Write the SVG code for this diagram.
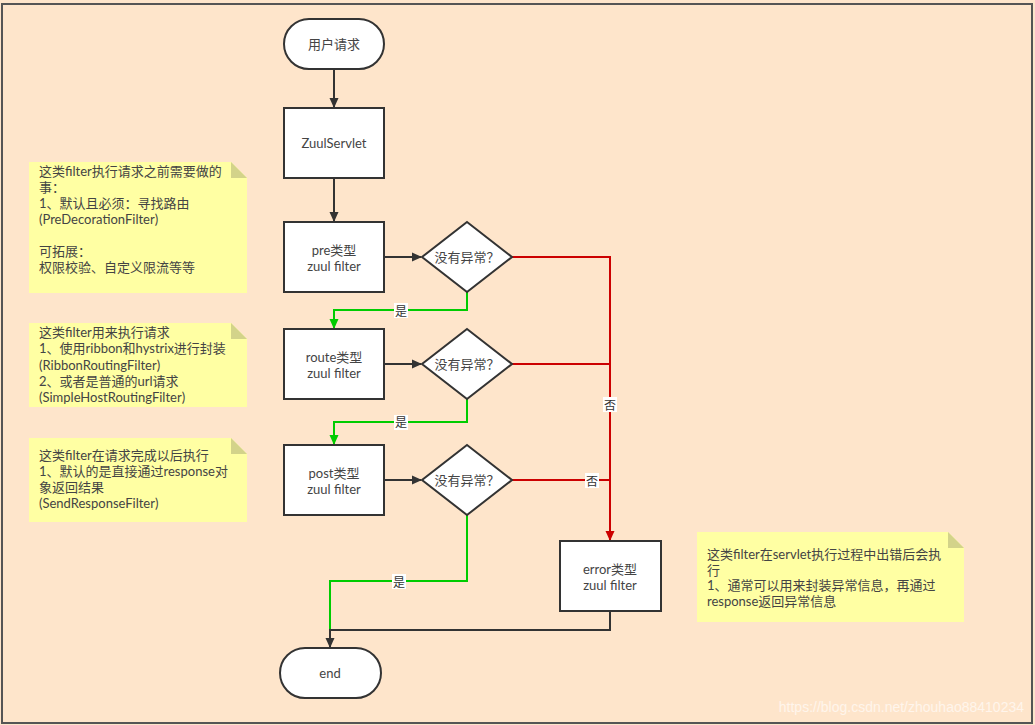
<svg xmlns="http://www.w3.org/2000/svg" width="1035" height="725" viewBox="0 0 1035 725">
<style>
text{font-family:Lato,"Noto Sans CJK SC",sans-serif;font-size:13px;fill:#444}
.nt{text-anchor:middle;dominant-baseline:central}
.nb{fill:#fff;stroke:#333;stroke-width:2}
.note{fill:#FFFFA3}
.fold{fill:#D3D38A}
.c{fill:none;stroke:#333;stroke-width:2}
.g{fill:none;stroke:#00CC00;stroke-width:2}
.r{fill:none;stroke:#CC0000;stroke-width:2}
.lb{fill:#fff}
.lt{text-anchor:middle;dominant-baseline:central;font-size:12px;fill:#333}
</style>
<defs>
<marker id="ab" markerWidth="10" markerHeight="10" refX="9" refY="5" orient="auto" markerUnits="userSpaceOnUse"><path d="M0,0.5 L10,5 L0,9.5 Z" fill="#333"/></marker>
<marker id="ag" markerWidth="10" markerHeight="10" refX="9" refY="5" orient="auto" markerUnits="userSpaceOnUse"><path d="M0,0.5 L10,5 L0,9.5 Z" fill="#00CC00"/></marker>
<marker id="ar" markerWidth="10" markerHeight="10" refX="9" refY="5" orient="auto" markerUnits="userSpaceOnUse"><path d="M0,0.5 L10,5 L0,9.5 Z" fill="#CC0000"/></marker>
</defs>
<rect x="0" y="0" width="1035" height="725" fill="#FEE5CB"/>
<rect x="2" y="4" width="1030" height="719" fill="none" stroke="#555" stroke-width="2"/>

<g id="connectors">
<line class="c" x1="334" y1="69" x2="334" y2="107" marker-end="url(#ab)"/>
<line class="c" x1="334" y1="178" x2="334" y2="221" marker-end="url(#ab)"/>
<line class="c" x1="384" y1="257" x2="421" y2="257" marker-end="url(#ab)"/>
<line class="c" x1="384" y1="364" x2="421" y2="364" marker-end="url(#ab)"/>
<line class="c" x1="384" y1="480" x2="421" y2="480" marker-end="url(#ab)"/>
<polyline class="g" points="467,292 467,310 334,310 334,328" marker-end="url(#ag)"/>
<polyline class="g" points="467,399 467,422 334,422 334,444" marker-end="url(#ag)"/>
<polyline class="g" points="467,515 467,581 330,581 330,630"/>
<polyline class="c" points="610,611 610,630 330,630 330,647" marker-end="url(#ab)"/>
<polyline class="r" points="512,257 610,257 610,540" marker-end="url(#ar)"/>
<line class="r" x1="512" y1="364" x2="610" y2="364"/>
<line class="r" x1="512" y1="480" x2="610" y2="480"/>
<rect class="lb" x="394" y="303" width="14" height="15"/><text class="lt" x="401" y="311">是</text>
<rect class="lb" x="394" y="415" width="14" height="15"/><text class="lt" x="401" y="422">是</text>
<rect class="lb" x="392" y="574" width="14" height="15"/><text class="lt" x="399" y="582">是</text>
<rect class="lb" x="603" y="397" width="14" height="15"/><text class="lt" x="610" y="405">否</text>
<rect class="lb" x="585" y="473" width="14" height="15"/><text class="lt" x="592" y="481">否</text>
</g>

<g id="start"><rect class="nb" x="284" y="19" width="100" height="50" rx="25"/><text class="nt" x="334" y="44">用户请求</text></g>
<g id="zuulservlet"><rect class="nb" x="284" y="108" width="100" height="70"/><text class="nt" x="334" y="143">ZuulServlet</text></g>
<g id="pre"><rect class="nb" x="284" y="222" width="100" height="70"/><text class="nt" x="334" y="250">pre类型<tspan x="334" dy="15.5">zuul filter</tspan></text></g>
<g id="d1"><polygon class="nb" points="467,222 512,257 467,292 422,257"/><text class="nt" x="467" y="257">没有异常？</text></g>
<g id="route"><rect class="nb" x="284" y="329" width="100" height="70"/><text class="nt" x="334" y="357">route类型<tspan x="334" dy="15.5">zuul filter</tspan></text></g>
<g id="d2"><polygon class="nb" points="467,329 512,364 467,399 422,364"/><text class="nt" x="467" y="364">没有异常？</text></g>
<g id="post"><rect class="nb" x="284" y="445" width="100" height="70"/><text class="nt" x="334" y="473">post类型<tspan x="334" dy="15.5">zuul filter</tspan></text></g>
<g id="d3"><polygon class="nb" points="467,445 512,480 467,515 422,480"/><text class="nt" x="467" y="480">没有异常？</text></g>
<g id="error"><rect class="nb" x="560" y="541" width="101" height="70"/><text class="nt" x="610" y="569">error类型<tspan x="610" dy="15.5">zuul filter</tspan></text></g>
<g id="end"><rect class="nb" x="280" y="648" width="101" height="50" rx="25"/><text class="nt" x="330" y="673">end</text></g>

<g id="note1">
<path class="note" d="M29,162 H231 L247,178 V293 H29 Z"/><path class="fold" d="M231,162 L247,178 H231 Z"/>
<text x="39" y="176">这类filter执行请求之前需要做的<tspan x="39" dy="16">事：</tspan><tspan x="39" dy="16">1、默认且必须：寻找路由</tspan><tspan x="39" dy="16">(PreDecorationFilter)</tspan><tspan x="39" dy="32">可拓展：</tspan><tspan x="39" dy="16">权限校验、自定义限流等等</tspan></text>
</g>
<g id="note2">
<path class="note" d="M29,323 H231 L247,339 V407 H29 Z"/><path class="fold" d="M231,323 L247,339 H231 Z"/>
<text x="39" y="337">这类filter用来执行请求<tspan x="39" dy="16.3">1、使用ribbon和hystrix进行封装</tspan><tspan x="39" dy="16.3">(RibbonRoutingFilter)</tspan><tspan x="39" dy="16.3">2、或者是普通的url请求</tspan><tspan x="39" dy="16.3">(SimpleHostRoutingFilter)</tspan></text>
</g>
<g id="note3">
<path class="note" d="M29,438 H231 L247,454 V522 H29 Z"/><path class="fold" d="M231,438 L247,454 H231 Z"/>
<text x="39" y="460">这类filter在请求完成以后执行<tspan x="39" dy="16">1、默认的是直接通过response对</tspan><tspan x="39" dy="16">象返回结果</tspan><tspan x="39" dy="16">(SendResponseFilter)</tspan></text>
</g>
<g id="note4">
<path class="note" d="M697,532 H948 L964,548 V622 H697 Z"/><path class="fold" d="M948,532 L964,548 H948 Z"/>
<text x="707" y="559">这类filter在servlet执行过程中出错后会执<tspan x="707" dy="15.7">行</tspan><tspan x="707" dy="15.7">1、通常可以用来封装异常信息，再通过</tspan><tspan x="707" dy="15.7">response返回异常信息</tspan></text>
</g>
<text x="1024" y="712" text-anchor="end" style="font-family:'Liberation Sans',sans-serif;font-size:14px;fill:#FFF5EC">https://blog.csdn.net/zhouhao88410234</text>
</svg>
